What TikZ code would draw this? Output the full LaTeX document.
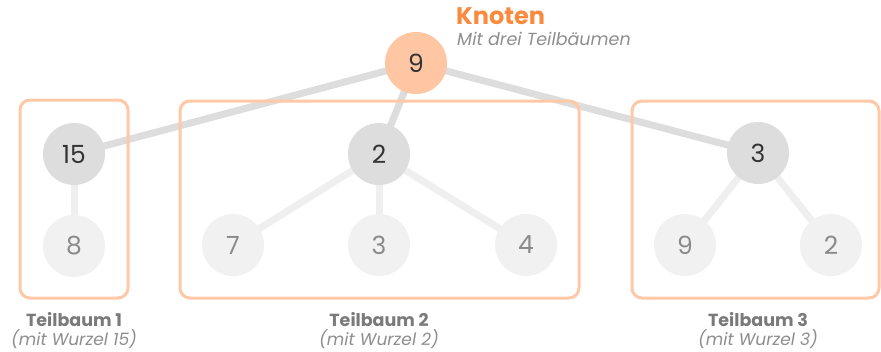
\documentclass[tikz,border=0pt]{standalone}
\usepackage{fontspec}
\setmainfont{Poppins}
\begin{document}
\definecolor{accent}{HTML}{F98A3E}
\definecolor{rootfill}{HTML}{FFC6A3}
\definecolor{framecol}{HTML}{FFC9A8}
\definecolor{upperedge}{HTML}{DDDDDD}
\definecolor{loweredge}{HTML}{EFEFEF}
\definecolor{midfill}{HTML}{DDDDDD}
\definecolor{leaffill}{HTML}{F1F1F2}
\definecolor{leaftext}{HTML}{8A8A8A}
\definecolor{midtext}{HTML}{333333}
\definecolor{captext}{HTML}{7A7A7A}
\begin{tikzpicture}[x=1pt,y=-1pt,
  treenode/.style={circle,minimum size=62pt,inner sep=0pt,font=\fontsize{25}{25}\selectfont},
  rootnode/.style={treenode,fill=rootfill,text=midtext},
  midnode/.style={treenode,fill=midfill,text=midtext},
  leafnode/.style={treenode,fill=leaffill,text=leaftext},
  upperlink/.style={draw=upperedge,line width=7pt},
  lowerlink/.style={draw=loweredge,line width=7pt},
  subframe/.style={draw=framecol,line width=3pt,rounded corners=10pt},
  captitle/.style={font=\bfseries\fontsize{17.5}{17.5}\selectfont,text=captext},
  capsub/.style={font=\itshape\fontsize{17}{17}\selectfont,text=captext!85}]
\useasboundingbox[fill=white] (0,0) rectangle (881,351);

% node positions
\coordinate (pR) at (416,63);
\coordinate (pA) at (74,154);
\coordinate (pA1) at (74,246);
\coordinate (pB) at (379,154);
\coordinate (pB1) at (233,245);
\coordinate (pB2) at (379,245);
\coordinate (pB3) at (526,245);
\coordinate (pC) at (758,153);
\coordinate (pC1) at (685,245);
\coordinate (pC2) at (831,245);

% connectors
\path[upperlink] (pR) -- (pA);
\path[upperlink] (pR) -- (pB);
\path[upperlink] (pR) -- (pC);
\path[lowerlink] (pA) -- (pA1);
\path[lowerlink] (pB) -- (pB1);
\path[lowerlink] (pB) -- (pB2);
\path[lowerlink] (pB) -- (pB3);
\path[lowerlink] (pC) -- (pC1);
\path[lowerlink] (pC) -- (pC2);

% subtree frames
\draw[subframe] (20,100) rectangle (128,298);
\draw[subframe] (180,101) rectangle (579,298);
\draw[subframe] (632,101) rectangle (879,298);

% nodes
\node[rootnode] (r) at (pR) {9};
\node[midnode] (a) at (pA) {15};
\node[leafnode] (a1) at (pA1) {8};
\node[midnode] (b) at (pB) {2};
\node[leafnode] (b1) at (pB1) {7};
\node[leafnode] (b2) at (pB2) {3};
\node[leafnode] (b3) at (pB3) {4};
\node[midnode] (c) at (pC) {3};
\node[leafnode] (c1) at (pC1) {9};
\node[leafnode] (c2) at (pC2) {2};

% heading
\node[anchor=west,font=\bfseries\fontsize{24}{24}\selectfont,text=accent,inner sep=0pt] (title) at (456,16) {Knoten};
\node[anchor=west,font=\itshape\fontsize{17.5}{17.5}\selectfont,text=captext!85,inner sep=0pt] (subtitle) at (457,39) {Mit drei Teilbäumen};

% captions
\node[captitle] (t1) at (74,320) {Teilbaum 1};
\node[capsub] (s1) at (74,339) {(mit Wurzel 15)};
\node[captitle] (t2) at (379,320) {Teilbaum 2};
\node[capsub] (s2) at (379,339) {(mit Wurzel 2)};
\node[captitle] (t3) at (758,320) {Teilbaum 3};
\node[capsub] (s3) at (758,339) {(mit Wurzel 3)};
\end{tikzpicture}
\end{document}
